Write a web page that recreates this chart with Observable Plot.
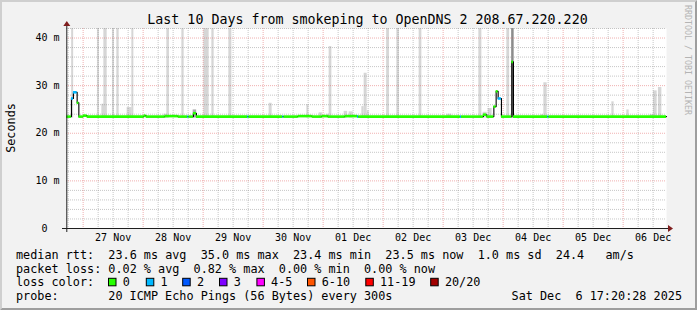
<!DOCTYPE html>
<html><head><meta charset="utf-8">
<script src="https://cdn.jsdelivr.net/npm/d3@7"></script>
<script src="https://cdn.jsdelivr.net/npm/@observablehq/plot@0.6"></script>
<style>
html,body{margin:0;padding:0;background:#fff;}
#chart{position:relative;width:697px;height:310px;}
#chart svg text{white-space:pre;}
</style></head><body><div id="chart"></div>
<script>
// ---------- data ----------
const titleText = "Last 10 Days from smokeping to OpenDNS 2 208.67.220.220";
const yLabelText = "Seconds";
const watermarkText = "RRDTOOL / TOBI OETIKER";
const startTime = "2025-11-26T17:20:28Z";
const endTime = "2025-12-06T17:20:28Z";
const yMax = 42;
const yTickValues = [0, 10, 20, 30, 40];
const yTickLabels = ["0  ", "10 m", "20 m", "30 m", "40 m"];
const dayLabels = ["27 Nov", "28 Nov", "29 Nov", "30 Nov", "01 Dec", "02 Dec", "03 Dec", "04 Dec", "05 Dec", "06 Dec"];

// median rtt (ms), step series, with loss count per step
const medianTimes = [
  "2025-11-26T17:20", "2025-11-26T19:19", "2025-11-26T20:07", "2025-11-26T21:36", "2025-11-26T22:17",
  "2025-11-27T00:07", "2025-11-27T01:36", "2025-11-28T00:24", "2025-11-28T01:12", "2025-11-28T08:48",
  "2025-11-28T14:00", "2025-11-28T17:53", "2025-11-28T18:17", "2025-11-28T20:07", "2025-11-28T21:19",
  "2025-11-29T17:53", "2025-11-29T18:17", "2025-11-30T07:53", "2025-11-30T08:17", "2025-11-30T14:00",
  "2025-11-30T19:36", "2025-11-30T23:36", "2025-12-01T02:00", "2025-12-01T08:48", "2025-12-01T13:48",
  "2025-12-01T14:12", "2025-12-03T06:55", "2025-12-03T07:19", "2025-12-03T16:07", "2025-12-03T17:29",
  "2025-12-03T20:17", "2025-12-03T21:12", "2025-12-03T22:00", "2025-12-03T23:19", "2025-12-04T03:29",
  "2025-12-04T04:07", "2025-12-04T17:53", "2025-12-04T18:17", "2025-12-06T17:20"
];
const medianValues = [
  23.5, 27.3, 28.6, 26.4, 23.5,
  23.7, 23.5, 23.7, 23.5, 23.6,
  23.5, 23.5, 23.5, 24.2, 23.5,
  23.5, 23.5, 23.5, 23.5, 23.6,
  23.5, 23.6, 23.5, 23.6, 23.5,
  23.5, 23.5, 23.5, 23.9, 23.5,
  25.6, 28.8, 27.3, 23.5, 35.0,
  23.5, 23.5, 23.5, 23.5
];
const medianLoss = [
  0, 1, 1, 0, 0,
  0, 0, 0, 0, 0,
  0, 1, 0, 0, 0,
  1, 0, 1, 0, 0,
  0, 0, 0, 0, 1,
  0, 1, 0, 0, 0,
  0, 0, 1, 0, 0,
  0, 1, 0, 0
];

// smoke (ping spread): start, end, low ms, high ms, density class (0 light, 1 mid, 2 dark)
const smokeStart = [
  "2025-11-26T19:24", "2025-11-27T05:43", "2025-11-27T07:29", "2025-11-27T08:17", "2025-11-27T11:43",
  "2025-11-27T13:29", "2025-11-27T17:36", "2025-11-27T19:29", "2025-11-28T08:17", "2025-11-28T09:29",
  "2025-11-28T15:29", "2025-11-28T20:00", "2025-11-29T00:17", "2025-11-29T03:29", "2025-11-29T10:17",
  "2025-11-30T02:24", "2025-11-30T17:29", "2025-11-30T22:24", "2025-12-01T01:36", "2025-12-01T02:24",
  "2025-12-01T08:24", "2025-12-01T10:24", "2025-12-01T15:29", "2025-12-01T16:24", "2025-12-01T17:36",
  "2025-12-02T01:24", "2025-12-02T05:29", "2025-12-02T14:24", "2025-12-03T01:29", "2025-12-03T14:17",
  "2025-12-03T16:00", "2025-12-03T18:00", "2025-12-04T01:29", "2025-12-04T03:24", "2025-12-04T15:12",
  "2025-12-04T16:17", "2025-12-05T19:29", "2025-12-06T01:29", "2025-12-06T10:48", "2025-12-06T12:07",
  "2025-12-06T14:07"
];
const smokeEnd = [
  "2025-11-26T20:12", "2025-11-27T06:31", "2025-11-27T09:36", "2025-11-27T09:36", "2025-11-27T12:31",
  "2025-11-27T14:24", "2025-11-27T19:36", "2025-11-27T20:17", "2025-11-28T10:07", "2025-11-28T10:31",
  "2025-11-28T16:24", "2025-11-28T21:24", "2025-11-29T02:24", "2025-11-29T04:24", "2025-11-29T11:29",
  "2025-11-30T03:36", "2025-11-30T18:17", "2025-11-30T23:43", "2025-12-01T02:24", "2025-12-01T03:29",
  "2025-12-01T09:48", "2025-12-01T12:00", "2025-12-01T16:24", "2025-12-01T17:36", "2025-12-01T18:24",
  "2025-12-02T02:31", "2025-12-02T06:31", "2025-12-02T15:29", "2025-12-03T03:29", "2025-12-03T15:29",
  "2025-12-03T17:36", "2025-12-03T19:36", "2025-12-04T02:36", "2025-12-04T04:24", "2025-12-04T16:17",
  "2025-12-04T17:36", "2025-12-05T20:24", "2025-12-06T02:24", "2025-12-06T12:07", "2025-12-06T13:36",
  "2025-12-06T15:29"
];
const smokeLow = [
  23.2, 23.2, 23.2, 23.2, 23.2, 23.2, 23.2, 23.2, 23.2, 23.2,
  23.2, 23.2, 23.2, 23.2, 23.2, 23.2, 23.2, 23.2, 23.2, 23.2,
  23.2, 23.2, 23.2, 23.2, 23.2, 23.2, 23.2, 23.2, 23.2, 23.2,
  23.2, 23.2, 23.2, 23.2, 23.2, 23.2, 23.2, 23.2, 23.2, 23.2,
  23.2
];
const smokeHigh = [
  48, 48, 26.1, 48, 48, 48, 25.4, 48, 24.0, 48,
  48, 24.9, 48, 48, 48, 26.3, 26.0, 24.3, 24.0, 38.2,
  24.6, 24.5, 25.6, 32.6, 24.7, 48, 48, 48, 24.0, 48,
  24.4, 25.2, 48, 48, 23.9, 30.6, 26.6, 24.9, 23.9, 28.9,
  29.6
];
const smokeDensity = [
  0, 0, 0, 0, 0, 0, 0, 0, 0, 0,
  0, 1, 0, 0, 0, 0, 0, 0, 0, 0,
  0, 0, 0, 0, 0, 0, 0, 0, 0, 0,
  0, 0, 0, 2, 0, 0, 0, 0, 0, 0,
  0
];

// legend
const rttLabel = "median rtt:";
const rttStats = ["23.6 ms avg", "35.0 ms max", "23.4 ms min", "23.5 ms now", "1.0 ms sd", "24.4", "am/s"];
const lossLabel = "packet loss:";
const lossStats = ["0.02 % avg", "0.82 % max", "0.00 % min", "0.00 % now"];
const lossColorLabel = "loss color:";
const lossLabels = ["0", "1", "2", "3", "4-5", "6-10", "11-19", "20/20"];
const lossColors = ["#26ff00", "#00b8ff", "#0059ff", "#7e00ff", "#ff00ff", "#ff5500", "#ff0000", "#a10000"];
const probeLabel = "probe:";
const probeText = "20 ICMP Echo Pings (56 Bytes) every 300s";
const dateText = "Sat Dec  6 17:20:28 2025";

// ---------- build ----------
const parseT = s => new Date(s.endsWith("Z") ? s : s + ":00Z");
const t0 = parseT(startTime), t1 = parseT(endTime);
const shades = ["#d6d6d6", "#a9a9a9", "#8c8c8c"];

const median = medianTimes.map((t, i) => ({t: parseT(t), v: medianValues[i], loss: medianLoss[i]}));
const segs = median.slice(0, -1).map((d, i) => ({t1: d.t, t2: median[i + 1].t, v: d.v, c: lossColors[d.loss]}));
const smoke = smokeStart.map((s, i) => ({s: parseT(s), e: parseT(smokeEnd[i]), lo: smokeLow[i], hi: smokeHigh[i], fill: shades[smokeDensity[i]]}));

const majorX = d3.utcDay.range(t0, t1);
const minorX = d3.utcHour.every(6).range(t0, t1).filter(d => d.getUTCHours() !== 0);
const majorY = d3.range(10, yMax + 0.1, 10);
const minorY = d3.range(2, yMax + 0.1, 2).filter(v => v % 10 !== 0);
const labelDates = dayLabels.map((_, i) => d3.utcHour.offset(majorX[i], 12));

const gridMinor = {stroke: "#8f8f8f", strokeOpacity: 0.5, strokeDasharray: "1,1"};
const gridMajor = {stroke: "#de4f4f", strokeOpacity: 0.45, strokeDasharray: "1,1"};

const plot = Plot.plot({
  width: 697, height: 310,
  marginLeft: 66, marginRight: 31, marginTop: 28, marginBottom: 82,
  x: {type: "utc", domain: [t0, t1], axis: null},
  y: {domain: [0, yMax], axis: null},
  color: {type: "identity"},
  style: {background: "#f2f2f2", fontFamily: "DejaVu Sans Mono", fontSize: "10px", color: "#000", overflow: "visible"},
  marks: [
    Plot.frame({fill: "#fff", stroke: null}),
    Plot.rect(smoke, {x1: "s", x2: "e", y1: "lo", y2: "hi", fill: "fill", clip: true}),
    Plot.ruleX(minorX, gridMinor),
    Plot.ruleY(minorY, gridMinor),
    Plot.ruleX(majorX, gridMajor),
    Plot.ruleY(majorY, gridMajor),
    Plot.line(median, {x: "t", y: "v", curve: "step-after", stroke: "#000", strokeWidth: 1.1}),
    Plot.ruleY(segs, {y: "v", x1: "t1", x2: "t2", stroke: "c", strokeWidth: 2.6}),
    Plot.axisY({ticks: yTickValues, tickSize: 0, tickPadding: 7, label: null,
      tickFormat: d => yTickLabels[yTickValues.indexOf(d)]}),
    Plot.axisX({ticks: labelDates, tickSize: 0, tickPadding: 5.5, label: null,
      tickFormat: d => dayLabels[labelDates.findIndex(e => +e === +d)]})
  ]
});

const svg = d3.select(plot);
const X = plot.scale("x"), Y = plot.scale("y");
const xo = X.apply(t0), xe = X.apply(t1), yo = Y.apply(0), yt = Y.apply(yMax);
const W = 697, H = 310;

// bevel border
svg.append("polygon").attr("points", `0,0 ${W},0 ${W-2},2 2,2 2,${H-2} 0,${H}`).attr("fill", "#cfcfcf");
svg.append("polygon").attr("points", `${W},0 ${W},${H} 0,${H} 2,${H-2} ${W-2},${H-2} ${W-2},2`).attr("fill", "#9e9e9e");

// axes and arrows
const ax = xo + 0.8;
svg.append("line").attr("x1", xo - 4).attr("x2", xe + 4).attr("y1", yo + 0.5).attr("y2", yo + 0.5).attr("stroke", "#1f1f1f");
svg.append("line").attr("x1", ax).attr("x2", ax).attr("y1", yo + 4).attr("y2", yt - 4).attr("stroke", "#1f1f1f");
svg.append("polygon").attr("points", `${xe+2},${yo-3} ${xe+2},${yo+4} ${xe+7},${yo+0.5}`).attr("fill", "#801f1f");
svg.append("polygon").attr("points", `${ax-3.5},${yt-2} ${ax+3.5},${yt-2} ${ax},${yt-7}`).attr("fill", "#801f1f");

const font = "DejaVu Sans Mono";
const addText = (x, y, s, size, opts = {}) => {
  const t = svg.append("text").attr("x", x).attr("y", y).text(s)
    .attr("font-family", font).attr("font-size", size).attr("fill", opts.fill || "#000")
    .attr("text-anchor", opts.anchor || "start");
  if (opts.transform) t.attr("transform", opts.transform).attr("x", 0).attr("y", 0);
  return t;
};

// title, y label, watermark
addText((xo + xe) / 2 + 1.5, 24, titleText, "13.3px", {anchor: "middle"});
addText(0, 0, yLabelText, "11.8px", {anchor: "middle", transform: `translate(14.5,${(yo + yt) / 2}) rotate(-90)`});
addText(0, 0, watermarkText, "8.3px", {fill: "#b4b4b4", transform: `translate(684.5,5) rotate(90)`});

// legend (monospace rows)
const lf = "11.8px";
const rows = [258.7, 272.5, 286.3, 300.1];
const col0 = 16, col1 = 108.3;
const row1 = `${rttLabel}  ${rttStats.slice(0, 6).join("  ")}   ${rttStats[6]}`;
const row2 = `${lossLabel} ${lossStats.join("  ")}`;
addText(col0, rows[0], row1, lf);
addText(col0, rows[1], row2, lf);
addText(col0, rows[2], lossColorLabel, lf);
[108, 145.8, 182.2, 219, 256.4, 307, 365.3, 430.2].forEach((x, i) => {
  svg.append("rect").attr("x", x + 0.5).attr("y", rows[2] - 8).attr("width", 7.5).attr("height", 7.5)
    .attr("fill", lossColors[i]).attr("stroke", "#000").attr("stroke-width", 1);
  addText(x + 14.7, rows[2], lossLabels[i], lf);
});
addText(col0, rows[3], probeLabel, lf);
addText(col1, rows[3], probeText, lf);
addText(682, rows[3], dateText, lf, {anchor: "end"});

document.getElementById("chart").appendChild(plot);
</script>
</body></html>
